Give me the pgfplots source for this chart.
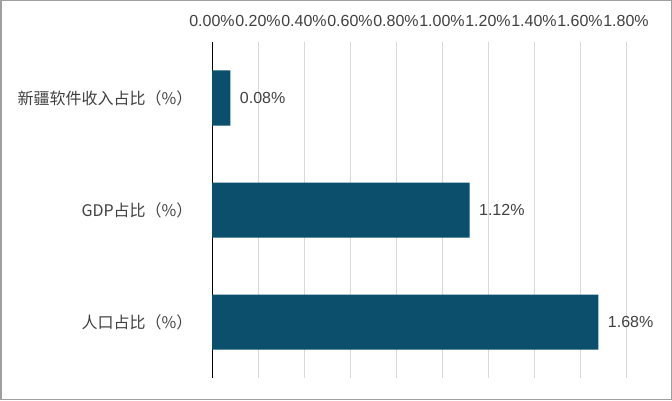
\documentclass[border=0pt]{standalone}
\usepackage{pgfplots}
\pgfplotsset{compat=1.18}
\usepackage{fontspec}
\setmainfont{Liberation Sans}
\newfontfamily\cjk{Noto Sans CJK SC}
\definecolor{barc}{HTML}{0B4F6C}
\definecolor{txt}{HTML}{404040}
\definecolor{gridc}{HTML}{D9D9D9}
\begin{document}
\begin{tikzpicture}[x=1bp,y=1bp]
\path[use as bounding box] (0,0) rectangle (672,400);
\draw[gray!75, line width=1.5bp] (0.75,0.75) rectangle (671.25,399.25);
\begin{axis}[at={(212bp,22bp)}, anchor=south west, scale only axis,
  width=414bp, height=336bp,
  xbar, bar width=55bp,
  xmin=0, xmax=1.8, ymin=-0.5, ymax=2.5,
  axis x line=top, axis y line=left,
  x axis line style={draw=none},
  y axis line style={black, line width=0.8bp, -},
  xtick={0,0.2,...,1.8},
  xticklabel={\pgfmathprintnumber[fixed,fixed zerofill,precision=2]{\tick}\%},
  /pgf/number format/assume math mode=true,
  xticklabel style={font=\fontsize{16bp}{18bp}\selectfont, text=txt, yshift=12bp},
  major tick length=0pt,
  xmajorgrids, major grid style={gridc, line width=0.8bp},
  ytick={0,1,2},
  yticklabels={{\cjk\fontsize{16bp}{18bp}\selectfont 人口占比（\%）},
               {\cjk\fontsize{16bp}{18bp}\selectfont GDP占比（\%）},
               {\cjk\fontsize{16bp}{18bp}\selectfont 新疆软件收入占比（\%）}},
  yticklabel style={text=txt, xshift=-16bp},
  nodes near coords={\pgfmathprintnumber[fixed,fixed zerofill,precision=2]{\pgfplotspointmeta}\%},
  point meta=x,
  nodes near coords style={font=\fontsize{16bp}{18bp}\selectfont, text=txt, xshift=6bp},
]
\addplot[fill=barc, draw=none] coordinates {(1.68,0) (1.12,1) (0.08,2)};
\end{axis}
\end{tikzpicture}
\end{document}
